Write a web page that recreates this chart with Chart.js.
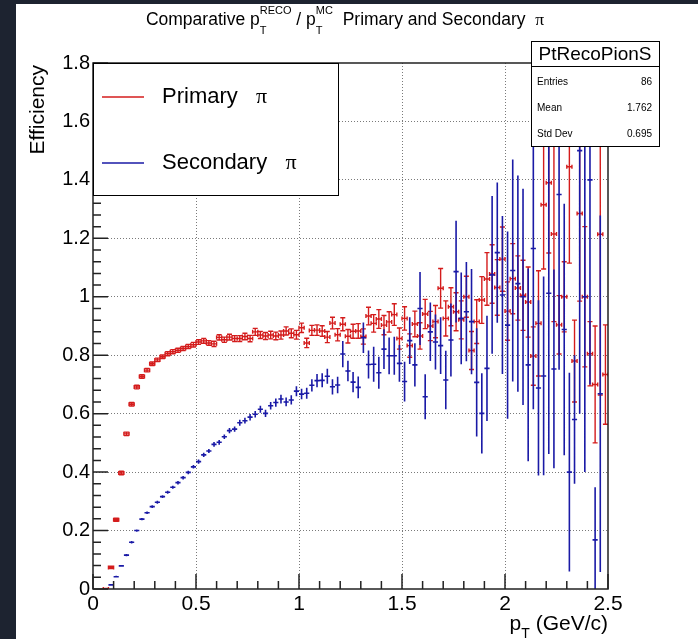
<!DOCTYPE html>
<html>
<head>
<meta charset="utf-8">
<title>Comparative pT efficiency</title>
<script src="https://cdn.jsdelivr.net/npm/chart.js@4/dist/chart.umd.min.js"></script>
<style>
  html, body { margin: 0; padding: 0; background: #1d2330; overflow: hidden; }
  #wrap { width: 698px; height: 639px; }
  #effChart { display: block; }
</style>
</head>
<body>
<div id="wrap"><canvas id="effChart" width="698" height="639"></canvas></div>
<script>
// half of the 0.025 GeV/c bin width, used for the horizontal error bars
const binHalfWidth = 0.0125;

// Primary pi (red), bins 2..99
const primaryX = [
  0.0625,0.0875,0.1125,0.1375,0.1625,0.1875,0.2125,0.2375,0.2625,0.2875,
  0.3125,0.3375,0.3625,0.3875,0.4125,0.4375,0.4625,0.4875,0.5125,0.5375,
  0.5625,0.5875,0.6125,0.6375,0.6625,0.6875,0.7125,0.7375,0.7625,0.7875,
  0.8125,0.8375,0.8625,0.8875,0.9125,0.9375,0.9625,0.9875,1.0125,1.0375,
  1.0625,1.0875,1.1125,1.1375,1.1625,1.1875,1.2125,1.2375,1.2625,1.2875,
  1.3125,1.3375,1.3625,1.3875,1.4125,1.4375,1.4625,1.4875,1.5125,1.5375,
  1.5625,1.5875,1.6125,1.6375,1.6625,1.6875,1.7125,1.7375,1.7625,1.7875,
  1.8125,1.8375,1.8625,1.8875,1.9125,1.9375,1.9625,1.9875,2.0125,2.0375,
  2.0625,2.0875,2.1125,2.1375,2.1625,2.1875,2.2125,2.2375,2.2625,2.2875,
  2.3125,2.3375,2.3625,2.3875,2.4125,2.4375,2.4625,2.4875
];
const primaryY = [
  0.000,0.074,0.237,0.397,0.531,0.632,0.691,0.727,0.749,0.771,
  0.784,0.795,0.805,0.812,0.817,0.823,0.830,0.836,0.845,0.849,
  0.842,0.839,0.861,0.853,0.862,0.857,0.857,0.864,0.857,0.880,
  0.869,0.866,0.869,0.866,0.869,0.883,0.875,0.870,0.894,0.842,
  0.885,0.886,0.883,0.862,0.910,0.870,0.906,0.865,0.882,0.883,
  0.864,0.934,0.909,0.924,0.903,0.914,0.939,0.857,0.926,0.833,
  0.907,0.866,0.941,0.900,0.915,1.029,0.926,0.966,0.949,0.921,
  1.000,0.816,0.915,0.989,1.061,1.078,1.032,1.129,0.951,1.062,
  1.030,1.005,0.982,0.797,0.909,1.315,1.390,1.215,0.904,1.000,
  1.445,0.780,1.285,1.000,0.805,0.700,1.214,0.734
];
const primaryErr = [
  0.002,0.004,0.005,0.006,0.006,0.006,0.006,0.006,0.006,0.006,
  0.006,0.006,0.007,0.007,0.007,0.007,0.007,0.008,0.008,0.008,
  0.008,0.009,0.009,0.009,0.010,0.010,0.010,0.011,0.011,0.012,
  0.012,0.012,0.013,0.013,0.014,0.014,0.015,0.015,0.016,0.016,
  0.017,0.018,0.018,0.019,0.020,0.021,0.022,0.023,0.024,0.025,
  0.026,0.030,0.030,0.032,0.033,0.035,0.037,0.036,0.040,0.040,
  0.044,0.045,0.050,0.050,0.055,0.068,0.060,0.065,0.065,0.065,
  0.070,0.065,0.075,0.080,0.090,0.100,0.095,0.110,0.100,0.120,
  0.110,0.120,0.120,0.100,0.180,0.220,0.240,0.300,0.100,0.120,
  0.330,0.140,0.300,0.240,0.110,0.200,0.550,0.170
];

// Secondary pi (blue), bins 3..98
const secondaryX = [
  0.0875,0.1125,0.1375,0.1625,0.1875,0.2125,0.2375,0.2625,0.2875,0.3125,
  0.3375,0.3625,0.3875,0.4125,0.4375,0.4625,0.4875,0.5125,0.5375,0.5625,
  0.5875,0.6125,0.6375,0.6625,0.6875,0.7125,0.7375,0.7625,0.7875,0.8125,
  0.8375,0.8625,0.8875,0.9125,0.9375,0.9625,0.9875,1.0125,1.0375,1.0625,
  1.0875,1.1125,1.1375,1.1625,1.1875,1.2125,1.2375,1.2625,1.2875,1.3125,
  1.3375,1.3625,1.3875,1.4125,1.4375,1.4625,1.4875,1.5125,1.5375,1.5625,
  1.5875,1.6125,1.6375,1.6625,1.6875,1.7125,1.7375,1.7625,1.7875,1.8125,
  1.8375,1.8625,1.8875,1.9125,1.9375,1.9625,1.9875,2.0125,2.0375,2.0625,
  2.0875,2.1125,2.1375,2.1625,2.1875,2.2125,2.2375,2.2625,2.2875,2.3125,
  2.3375,2.3625,2.3875,2.4125,2.4375,2.4625
];
const secondaryY = [
  0.014,0.042,0.079,0.116,0.160,0.200,0.239,0.261,0.282,0.297,
  0.316,0.331,0.348,0.364,0.381,0.399,0.418,0.436,0.459,0.472,
  0.495,0.502,0.521,0.542,0.547,0.569,0.576,0.588,0.598,0.615,
  0.601,0.627,0.638,0.650,0.640,0.647,0.677,0.667,0.670,0.697,
  0.713,0.714,0.728,0.692,0.698,0.804,0.746,0.708,0.690,0.860,
  0.768,0.769,0.740,0.821,0.798,0.798,0.772,0.710,0.850,0.767,
  0.960,0.658,0.880,0.845,0.833,0.715,0.852,1.086,0.926,0.949,
  0.915,0.707,0.601,0.755,1.075,1.151,1.006,0.903,1.090,1.045,
  1.000,0.767,1.165,0.688,0.729,1.012,0.753,1.350,0.888,0.400,
  0.580,1.500,1.000,1.400,0.168,0.668
];
const secondaryErr = [
  0.003,0.003,0.003,0.004,0.004,0.004,0.004,0.004,0.005,0.005,
  0.005,0.005,0.005,0.006,0.006,0.006,0.006,0.007,0.007,0.007,
  0.008,0.008,0.008,0.009,0.009,0.010,0.010,0.011,0.011,0.012,
  0.012,0.013,0.014,0.015,0.015,0.016,0.017,0.018,0.019,0.021,
  0.023,0.024,0.026,0.026,0.028,0.045,0.035,0.035,0.037,0.052,
  0.048,0.060,0.055,0.068,0.063,0.065,0.063,0.068,0.080,0.074,
  0.125,0.077,0.100,0.094,0.097,0.100,0.125,0.174,0.157,0.170,
  0.180,0.185,0.137,0.180,0.270,0.240,0.270,0.320,0.380,0.370,
  0.370,0.330,0.550,0.300,0.340,0.550,0.340,0.600,0.430,0.340,
  0.220,0.900,0.600,0.700,0.180,0.610
];

const legendLabels = ['Primary', 'Secondary'];
const statsTitle = 'PtRecoPionS';
const statsLabels = ['Entries', 'Mean', 'Std Dev'];
const statsValues = ['86', '1.762', '0.695'];

const RED = '#d41c1c';
const BLUE = '#1a1aa6';
const SANS = '"Liberation Sans", Arial, sans-serif';
const SERIF = '"Liberation Serif", "DejaVu Serif", serif';

const toPoints = (xs, ys, es) => xs.map((x, i) => ({ x: x, y: ys[i], err: es[i] }));

// dotted grid only at the inner major ticks, like ROOT's SetGrid()
const innerGrid = (max) => (c) => {
  const v = c.tick ? c.tick.value : 0;
  return (Math.abs(v) < 1e-6 || Math.abs(v - max) < 1e-6) ? 'rgba(0,0,0,0)' : '#7a7a7a';
};

const pageBackground = {
  id: 'pageBackground',
  beforeDraw(chart) {
    const { ctx, width, height } = chart;
    ctx.save();
    ctx.fillStyle = '#ffffff';
    ctx.fillRect(0, 0, width, height);
    ctx.fillStyle = '#1d2330';
    ctx.fillRect(0, 0, 16, height);
    ctx.fillRect(0, 0, width, 4);
    ctx.restore();
  }
};

const errorBars = {
  id: 'errorBars',
  afterDatasetsDraw(chart) {
    const { ctx, chartArea: a, scales: { x, y } } = chart;
    ctx.save();
    ctx.beginPath();
    ctx.rect(a.left, a.top, a.right - a.left, a.bottom - a.top);
    ctx.clip();
    chart.data.datasets.forEach(ds => {
      ctx.strokeStyle = ds.borderColor;
      ctx.lineWidth = ds.barLineWidth;
      ctx.beginPath();
      ds.data.forEach(p => {
        const cx = x.getPixelForValue(p.x);
        const cy = y.getPixelForValue(p.y);
        const xl = x.getPixelForValue(p.x - binHalfWidth);
        const xr = x.getPixelForValue(p.x + binHalfWidth);
        const yt = y.getPixelForValue(p.y + p.err);
        const yb = y.getPixelForValue(p.y - p.err);
        ctx.moveTo(xl, cy); ctx.lineTo(xr, cy);
        ctx.moveTo(cx, yt); ctx.lineTo(cx, yb);
        if (ds.caps) {
          ctx.moveTo(xl, cy - 2); ctx.lineTo(xl, cy + 2);
          ctx.moveTo(xr, cy - 2); ctx.lineTo(xr, cy + 2);
          ctx.moveTo(cx - 2.5, yt); ctx.lineTo(cx + 2.5, yt);
          ctx.moveTo(cx - 2.5, yb); ctx.lineTo(cx + 2.5, yb);
        }
      });
      ctx.stroke();
    });
    ctx.restore();
  }
};

const rootFrame = {
  id: 'rootFrame',
  afterDatasetsDraw(chart) {
    const { ctx, chartArea: a, scales: { x, y } } = chart;
    ctx.save();
    ctx.strokeStyle = '#222';
    ctx.lineWidth = 1.5;
    ctx.strokeRect(a.left, a.top, a.right - a.left, a.bottom - a.top);
    ctx.beginPath();
    for (let k = 0; k <= 25; k++) {
      const px = x.getPixelForValue(k / 10);
      const len = k % 5 === 0 ? 15 : 8;
      ctx.moveTo(px, a.bottom); ctx.lineTo(px, a.bottom - len);
    }
    for (let k = 0; k <= 45; k++) {
      const py = y.getPixelForValue(k * 0.04);
      const len = k % 5 === 0 ? 15 : 8;
      ctx.moveTo(a.left, py); ctx.lineTo(a.left + len, py);
    }
    ctx.stroke();
    ctx.restore();
  }
};

const rootLegend = {
  id: 'rootLegend',
  afterDraw(chart) {
    const { ctx, chartArea: a } = chart;
    const box = { l: a.left, t: a.top, r: 338, b: 195 };
    ctx.save();
    ctx.fillStyle = '#fff';
    ctx.fillRect(box.l, box.t, box.r - box.l, box.b - box.t);
    ctx.strokeStyle = '#000';
    ctx.lineWidth = 1;
    ctx.strokeRect(box.l + 0.5, box.t + 0.5, box.r - box.l, box.b - box.t);
    const rows = [97, 163];
    chart.data.datasets.forEach((ds, i) => {
      ctx.strokeStyle = ds.borderColor;
      ctx.lineWidth = 1.3;
      ctx.beginPath();
      ctx.moveTo(102, rows[i]); ctx.lineTo(144, rows[i]);
      ctx.stroke();
      ctx.fillStyle = '#000';
      ctx.textBaseline = 'alphabetic';
      ctx.font = '22px ' + SANS;
      ctx.fillText(legendLabels[i], 162, rows[i] + 6);
      const w = ctx.measureText(legendLabels[i] + '   ').width;
      ctx.font = '22px ' + SERIF;
      ctx.fillText('\u03c0', 162 + w, rows[i] + 6);
    });
    ctx.restore();
  }
};

const statsBox = {
  id: 'statsBox',
  afterDraw(chart) {
    const { ctx } = chart;
    const l = 531, t = 41, r = 659, b = 146;
    ctx.save();
    ctx.fillStyle = '#fff';
    ctx.fillRect(l, t, r - l, b - t);
    ctx.strokeStyle = '#000';
    ctx.lineWidth = 1;
    ctx.strokeRect(l + 0.5, t + 0.5, r - l, b - t);
    ctx.beginPath();
    ctx.moveTo(l, 66.5); ctx.lineTo(r, 66.5);
    ctx.stroke();
    ctx.fillStyle = '#000';
    ctx.textBaseline = 'alphabetic';
    ctx.font = '19px ' + SANS;
    ctx.textAlign = 'center';
    ctx.fillText(statsTitle, (l + r) / 2, 60);
    ctx.font = '10px ' + SANS;
    const rowsY = [85, 111, 137];
    statsLabels.forEach((lab, i) => {
      ctx.textAlign = 'left';
      ctx.fillText(lab, 537, rowsY[i]);
      ctx.textAlign = 'right';
      ctx.fillText(statsValues[i], 652, rowsY[i]);
    });
    ctx.restore();
  }
};

const rootTitles = {
  id: 'rootTitles',
  afterDraw(chart) {
    const { ctx, chartArea: a } = chart;
    ctx.save();
    ctx.fillStyle = '#000';
    ctx.textBaseline = 'alphabetic';
    ctx.textAlign = 'left';

    // main title with sub/superscripts
    const big = '17.5px ' + SANS, small = '11px ' + SANS;
    const parts = [
      { t: 'Comparative ' }, { t: 'p' }, { sub: 'T', sup: 'RECO' },
      { t: ' / ' }, { t: 'p' }, { sub: 'T', sup: 'MC' },
      { t: '  Primary and Secondary  ' }, { t: '\u03c0', serif: true }
    ];
    const widthOf = (p) => {
      if (p.t !== undefined) { ctx.font = p.serif ? '17.5px ' + SERIF : big; return ctx.measureText(p.t).width; }
      ctx.font = small;
      return Math.max(ctx.measureText(p.sub).width, ctx.measureText(p.sup).width);
    };
    const total = parts.reduce((s, p) => s + widthOf(p), 0);
    let cx = 345 - total / 2;
    const base = 25;
    parts.forEach(p => {
      const w = widthOf(p);
      if (p.t !== undefined) {
        ctx.font = p.serif ? '17.5px ' + SERIF : big;
        ctx.fillText(p.t, cx, base);
      } else {
        ctx.font = small;
        ctx.fillText(p.sup, cx, base - 11);
        ctx.fillText(p.sub, cx, base + 9);
      }
      cx += w;
    });

    // y axis title, aligned to the top of the axis
    ctx.save();
    ctx.translate(44, 65);
    ctx.rotate(-Math.PI / 2);
    ctx.textAlign = 'right';
    ctx.font = '21px ' + SANS;
    ctx.fillText('Efficiency', 0, 0);
    ctx.restore();

    // x axis title, aligned to the right end of the axis
    ctx.font = '21px ' + SANS;
    const wp = ctx.measureText('p').width;
    const rest = ' (GeV/c)';
    const wr = ctx.measureText(rest).width;
    ctx.font = '14px ' + SANS;
    const wt = ctx.measureText('T').width;
    let xs = a.right - (wp + wt + wr);
    ctx.font = '21px ' + SANS;
    ctx.fillText('p', xs, 630);
    ctx.font = '14px ' + SANS;
    ctx.fillText('T', xs + wp, 638);
    ctx.font = '21px ' + SANS;
    ctx.fillText(rest, xs + wp + wt, 630);
    ctx.restore();
  }
};

new Chart(document.getElementById('effChart').getContext('2d'), {
  type: 'scatter',
  data: {
    datasets: [
      {
        label: 'Primary \u03c0',
        data: toPoints(primaryX, primaryY, primaryErr),
        borderColor: RED,
        backgroundColor: RED,
        pointRadius: 0,
        pointHoverRadius: 0,
        caps: true,
        barLineWidth: 1.4
      },
      {
        label: 'Secondary \u03c0',
        data: toPoints(secondaryX, secondaryY, secondaryErr),
        borderColor: BLUE,
        backgroundColor: BLUE,
        pointRadius: 0,
        pointHoverRadius: 0,
        caps: false,
        barLineWidth: 1.6
      }
    ]
  },
  options: {
    responsive: false,
    animation: false,
    devicePixelRatio: 1,
    events: [],
    layout: { padding: { top: 63, right: 90, left: 0, bottom: 0 } },
    plugins: {
      legend: { display: false },
      title: { display: false },
      tooltip: { enabled: false }
    },
    scales: {
      x: {
        type: 'linear',
        min: 0,
        max: 2.5,
        afterFit(scale) { scale.height = 50; },
        ticks: {
          stepSize: 0.5,
          autoSkip: false,
          maxRotation: 0,
          padding: 3,
          color: '#000',
          font: { family: SANS, size: 21 },
          callback: v => String(+v.toFixed(2))
        },
        grid: { color: innerGrid(2.5), lineWidth: 1, drawTicks: false },
        border: { display: false, dash: [1, 2] }
      },
      y: {
        type: 'linear',
        min: 0,
        max: 1.8,
        afterFit(scale) { scale.width = 93; },
        ticks: {
          stepSize: 0.2,
          autoSkip: false,
          padding: 3,
          color: '#000',
          font: { family: SANS, size: 20 },
          callback: v => String(+v.toFixed(2))
        },
        grid: { color: innerGrid(1.8), lineWidth: 1, drawTicks: false },
        border: { display: false, dash: [1, 2] }
      }
    }
  },
  plugins: [pageBackground, errorBars, rootFrame, rootLegend, statsBox, rootTitles]
});
</script>
</body>
</html>
